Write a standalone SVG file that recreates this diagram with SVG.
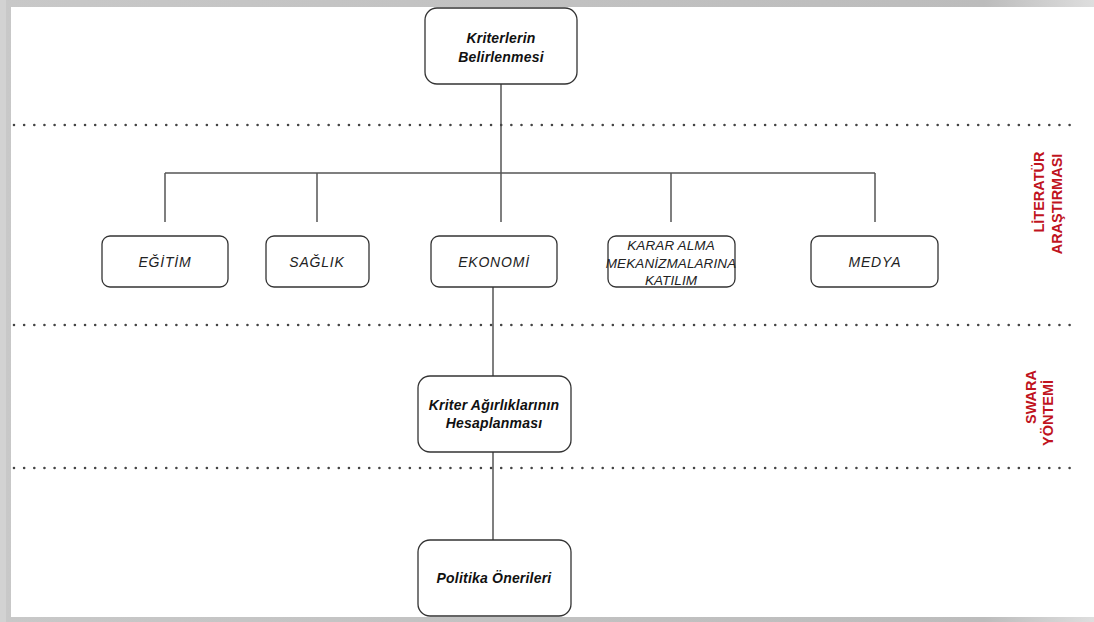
<svg xmlns="http://www.w3.org/2000/svg" width="1094" height="622" viewBox="0 0 1094 622">
<style>
.box{fill:#fff;stroke:#333;stroke-width:1.3}
.ln{stroke:#555;stroke-width:1.5;fill:none}
.dot{stroke:#444;stroke-width:2.6;stroke-linecap:round;stroke-dasharray:0 10.15;fill:none}
.bt{font-family:"Liberation Sans",Arial,sans-serif;font-size:14px;font-weight:bold;font-style:italic;fill:#111;text-anchor:middle;letter-spacing:0.2px}
.rt{font-family:"Liberation Sans",Arial,sans-serif;font-size:14px;font-style:italic;fill:#222;text-anchor:middle;letter-spacing:0.8px}
.st{font-family:"Liberation Sans",Arial,sans-serif;font-size:13.5px;font-style:italic;fill:#222;text-anchor:middle;letter-spacing:0.1px}
.red{font-family:"Liberation Sans",Arial,sans-serif;font-size:14.5px;font-weight:bold;fill:#c0141e;text-anchor:middle}
</style>
<defs>
<linearGradient id="tg" x1="0" x2="1" y1="0" y2="0"><stop offset="0" stop-color="#c8c8c8"/><stop offset="0.9" stop-color="#bcbcbc"/><stop offset="1" stop-color="#dedede"/></linearGradient>
</defs>
<rect x="0" y="0" width="1094" height="622" fill="url(#tg)"/>
<rect x="0" y="0" width="6" height="622" fill="#d2d2d2"/>
<rect x="11" y="7" width="1083" height="610" fill="#fff"/>
<g id="connectors">
<path class="ln" d="M501 84V173M165 173H875M165 173V222M317 173V222M501 173V222M671 173V222M875 173V222M493 287V376M493 452V540"/>
</g>
<g id="separators">
<path class="dot" d="M14 125H1070M14 325H1070M14 468H1070"/>
</g>
<g id="n-kriterler"><rect class="box" x="425" y="8" width="152" height="76" rx="12"/><text class="bt" x="501" y="43">Kriterlerin</text><text class="bt" x="501" y="62">Belirlenmesi</text></g>
<g id="n-egitim"><rect class="box" x="102" y="236" width="126" height="51" rx="8"/><text class="rt" x="165" y="267">EĞİTİM</text></g>
<g id="n-saglik"><rect class="box" x="266" y="236" width="103" height="51" rx="8"/><text class="rt" x="317" y="267">SAĞLIK</text></g>
<g id="n-ekonomi"><rect class="box" x="431" y="236" width="126" height="51" rx="8"/><text class="rt" x="494" y="267">EKONOMİ</text></g>
<g id="n-karar"><rect class="box" x="608" y="236" width="127" height="51" rx="8"/><text class="st" x="671" y="250">KARAR ALMA</text><text class="st" x="671" y="268">MEKANİZMALARINA</text><text class="st" x="671" y="285">KATILIM</text></g>
<g id="n-medya"><rect class="box" x="811" y="236" width="127" height="51" rx="8"/><text class="rt" x="875" y="267">MEDYA</text></g>
<g id="n-agirlik"><rect class="box" x="418" y="376" width="153" height="76" rx="12"/><text class="bt" x="494" y="410">Kriter Ağırlıklarının</text><text class="bt" x="494" y="428">Hesaplanması</text></g>
<g id="n-politika"><rect class="box" x="418" y="540" width="153" height="76" rx="12"/><text class="bt" x="494" y="583">Politika Önerileri</text></g>
<g id="labels">
<text class="red" transform="translate(1044 192) rotate(-90)">LİTERATÜR</text>
<text class="red" transform="translate(1062 204) rotate(-90)">ARAŞTIRMASI</text>
<text class="red" transform="translate(1036 397) rotate(-90)">SWARA</text>
<text class="red" transform="translate(1053 413) rotate(-90)">YÖNTEMİ</text>
</g>
</svg>
